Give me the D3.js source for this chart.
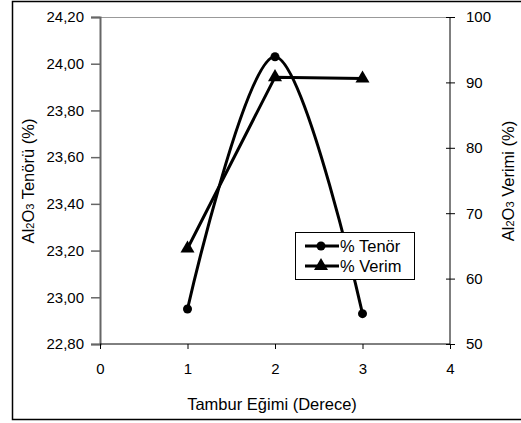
<!DOCTYPE html>
<html>
<head>
<meta charset="utf-8">
<script src="https://d3js.org/d3.v7.min.js"></script>
<style>
  body { margin: 0; background: #fff; overflow: hidden; }
  svg { display: block; }
  text { font-family: "Liberation Sans", Arial, sans-serif; fill: #000; }
</style>
</head>
<body>
<script>
  // Al2O3 tenör / verim vs tambur eğimi
  const egim = [1, 2, 3];
  const tenor = [22.95, 24.03, 22.93];
  const verim = [64.6, 90.8, 90.6];
  const leftTicks = [22.8, 23.0, 23.2, 23.4, 23.6, 23.8, 24.0, 24.2];
  const rightTicks = [50, 60, 70, 80, 90, 100];
  const xTicks = [0, 1, 2, 3, 4];

  const W = 521, H = 423;
  const pl = 100, pr = 450, pt = 17, pb = 344;

  const svg = d3.select("body").append("svg")
    .attr("width", W).attr("height", H);

  // outer frame (right side runs off the picture)
  svg.append("path")
    .attr("d", "M" + W + ",1.5H12.5V419.5H" + W)
    .attr("fill", "none").attr("stroke", "#000").attr("stroke-width", 1.5);

  var x = d3.scaleLinear().domain([0, 4]).range([pl, pr]);
  var yL = d3.scaleLinear().domain([22.8, 24.2]).range([pb, pt]);
  var yR = d3.scaleLinear().domain([50, 100]).range([pb, pt]);

  // top border line of plot
  svg.append("line")
    .attr("x1", pl).attr("x2", pr)
    .attr("y1", pt + 0.5).attr("y2", pt + 0.5)
    .attr("stroke", "#999").attr("stroke-width", 1);

  var fmt = function(d) { return d3.format(".2f")(d).replace(".", ","); };

  // left axis
  var gl = svg.append("g").attr("transform", "translate(" + pl + ",0)")
    .call(d3.axisLeft(yL).tickValues(leftTicks).tickFormat(fmt).tickSize(9).tickPadding(7));
  gl.select(".domain").attr("stroke", "#666").attr("stroke-width", 2);
  gl.selectAll(".tick line").attr("stroke", "#666").attr("stroke-width", 1.5);
  gl.selectAll("text").style("font-size", "15px").attr("fill", "#000");

  // right axis
  var gr = svg.append("g").attr("transform", "translate(" + pr + ",0)")
    .call(d3.axisRight(yR).tickValues(rightTicks).tickSize(5).tickPadding(11));
  gr.select(".domain").attr("stroke", "#000").attr("d", "M0," + pt + "V" + pb);
  gr.selectAll(".tick line").attr("x1", -4);
  gr.selectAll("text").style("font-size", "15px");

  // bottom axis
  var gb = svg.append("g").attr("transform", "translate(0," + pb + ")")
    .call(d3.axisBottom(x).tickValues(xTicks).tickFormat(d3.format("d")).tickSize(5).tickPadding(14));
  gb.select(".domain").attr("stroke", "#000").attr("d", "M" + pl + ",0H" + pr);
  gb.selectAll("text").style("font-size", "15px");

  // axis titles
  svg.append("text")
    .attr("transform", "translate(34,181) rotate(-90)")
    .attr("text-anchor", "middle").style("font-size", "16.5px")
    .html('Al<tspan style="font-size:11px">2</tspan>O<tspan style="font-size:11px">3</tspan> Tenörü (%)');
  svg.append("text")
    .attr("transform", "translate(514,181) rotate(-90)")
    .attr("text-anchor", "middle").style("font-size", "16.5px")
    .html('Al<tspan style="font-size:11px">2</tspan>O<tspan style="font-size:11px">3</tspan> Verimi (%)');
  svg.append("text")
    .attr("x", 272).attr("y", 410)
    .attr("text-anchor", "middle").style("font-size", "16.5px")
    .text("Tambur Eğimi (Derece)");

  // series
  var tData = egim.map(function(d, i) { return [d, tenor[i]]; });
  var vData = egim.map(function(d, i) { return [d, verim[i]]; });

  svg.append("path").datum(tData)
    .attr("fill", "none").attr("stroke", "#000").attr("stroke-width", 3)
    .attr("d", d3.line().x(function(d) { return x(d[0]); })
      .y(function(d) { return yL(d[1]); }).curve(d3.curveCardinal.tension(0)));

  svg.append("path").datum(vData)
    .attr("fill", "none").attr("stroke", "#000").attr("stroke-width", 3)
    .attr("d", d3.line().x(function(d) { return x(d[0]); })
      .y(function(d) { return yR(d[1]); }));

  svg.selectAll(".dot").data(tData).enter().append("circle")
    .attr("cx", function(d) { return x(d[0]); })
    .attr("cy", function(d) { return yL(d[1]); })
    .attr("r", 4.5).attr("fill", "#000");

  var tri = d3.symbol().type(d3.symbolTriangle).size(85);
  svg.selectAll(".tri").data(vData).enter().append("path")
    .attr("d", tri)
    .attr("transform", function(d) { return "translate(" + x(d[0]) + "," + yR(d[1]) + ")"; })
    .attr("fill", "#000");

  // legend
  var lg = svg.append("g").attr("transform", "translate(295,232)");
  lg.append("rect").attr("x", 0.5).attr("y", 0.5).attr("width", 119).attr("height", 47)
    .attr("fill", "#fff").attr("stroke", "#000");
  lg.append("line").attr("x1", 10).attr("x2", 44).attr("y1", 14).attr("y2", 14)
    .attr("stroke", "#000").attr("stroke-width", 3);
  lg.append("circle").attr("cx", 26).attr("cy", 14).attr("r", 4.5);
  lg.append("text").attr("x", 45).attr("y", 20).style("font-size", "16.5px").text("% Tenör");
  lg.append("line").attr("x1", 10).attr("x2", 44).attr("y1", 34).attr("y2", 34)
    .attr("stroke", "#000").attr("stroke-width", 3);
  lg.append("path").attr("d", tri).attr("transform", "translate(26,34)");
  lg.append("text").attr("x", 45).attr("y", 40).style("font-size", "16.5px").text("% Verim");
</script>
</body>
</html>
